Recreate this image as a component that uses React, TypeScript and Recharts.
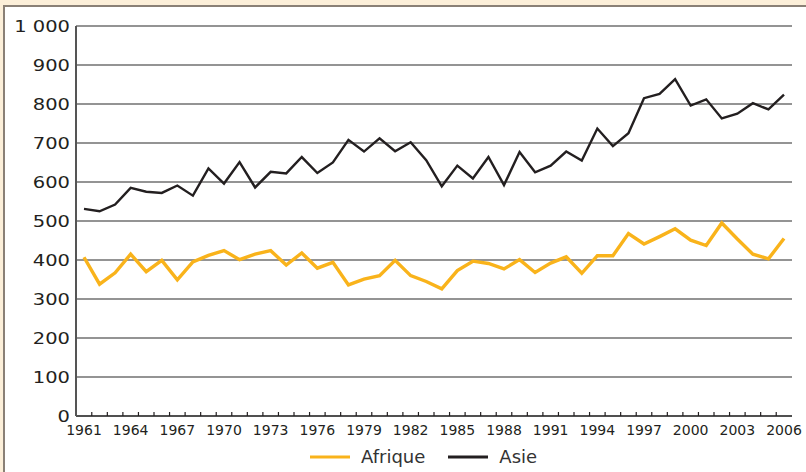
import { LineChart, Line, XAxis, YAxis, CartesianGrid } from "recharts";

const years = [
  1961, 1962, 1963, 1964, 1965, 1966, 1967, 1968, 1969, 1970, 1971, 1972,
  1973, 1974, 1975, 1976, 1977, 1978, 1979, 1980, 1981, 1982, 1983, 1984,
  1985, 1986, 1987, 1988, 1989, 1990, 1991, 1992, 1993, 1994, 1995, 1996,
  1997, 1998, 1999, 2000, 2001, 2002, 2003, 2004, 2005, 2006,
];

const afrique = [
  407, 338, 367, 415, 370, 399, 349, 395, 412, 424, 401, 415,
  424, 387, 418, 379, 394, 336, 351, 360, 399, 360, 345, 326,
  373, 397, 391, 377, 401, 368, 392, 408, 366, 411, 411, 468,
  441, 460, 480, 451, 437, 495, 454, 415, 403, 455,
];

const asie = [
  531, 525, 542, 585, 575, 572, 591, 565, 635, 596, 651, 586,
  626, 622, 664, 623, 650, 708, 678, 712, 679, 702, 656, 589,
  642, 609, 664, 592, 677, 625, 642, 678, 655, 737, 692, 725,
  815, 826, 864, 796, 812, 763, 775, 802, 786, 824,
];

const yTicks = [0, 100, 200, 300, 400, 500, 600, 700, 800, 900, 1000];

const series = [
  { key: "afrique", name: "Afrique", color: "#f9b31b", width: 3.4 },
  { key: "asie", name: "Asie", color: "#231f20", width: 2.4 },
];

const data = years.map((year, i) => ({
  year,
  afrique: afrique[i],
  asie: asie[i],
}));

const FONT = "'DejaVu Sans', sans-serif";
const PLOT_LEFT = 76;
const PLOT_RIGHT = 792;
const X_PAD = 8;
const HALF_STEP =
  (PLOT_RIGHT - PLOT_LEFT - 2 * X_PAD) / (years.length - 1) / 2;

const fmt = (v: number) =>
  v >= 1000 ? `${Math.floor(v / 1000)} ${String(v % 1000).padStart(3, "0")}` : String(v);

const XTick = (props: any) => {
  const { x, y, payload, index } = props;
  const year = Number(payload.value);
  return (
    <g>
      {index < years.length - 1 && (
        <line
          x1={x + HALF_STEP}
          x2={x + HALF_STEP}
          y1={y}
          y2={y - 4}
          stroke="#231f20"
          strokeWidth={1.2}
        />
      )}
      {(year - years[0]) % 3 === 0 && (
        <text
          x={x}
          y={y + 19}
          textAnchor="middle"
          fontFamily={FONT}
          fontSize={14}
          fill="#231f20"
        >
          {year}
        </text>
      )}
    </g>
  );
};

const YTick = (props: any) => {
  const { x, y, payload } = props;
  return (
    <g transform={`translate(${x - 6},${y})`}>
      <text
        transform="scale(1.3,1)"
        textAnchor="end"
        dy={5.5}
        fontFamily={FONT}
        fontSize={15}
        fill="#231f20"
      >
        {fmt(payload.value)}
      </text>
    </g>
  );
};

const ChartLegend = () => (
  <div
    style={{
      position: "absolute",
      top: 446,
      left: 310,
      display: "flex",
      alignItems: "center",
      fontFamily: FONT,
      fontSize: 18,
      color: "#333",
    }}
  >
    {series.map((s, i) => (
      <div
        key={s.key}
        style={{ display: "flex", alignItems: "center", marginRight: i === 0 ? 23 : 0 }}
      >
        <svg width={40} height={6} style={{ marginRight: 11 }}>
          <line x1={0} x2={40} y1={3} y2={3} stroke={s.color} strokeWidth={3} />
        </svg>
        <span>{s.name}</span>
      </div>
    ))}
  </div>
);

const App = () => {
  return (
    <div
      style={{
        position: "absolute",
        left: 0,
        top: 0,
        width: 806,
        height: 472,
        background: "#fcefd9",
        overflow: "hidden",
      }}
    >
      <div
        style={{
          position: "absolute",
          left: 3,
          top: 5,
          width: 803,
          height: 467,
          background: "#fff",
          borderTop: "2px solid #8a8076",
          borderLeft: "2px solid #8a8076",
          boxSizing: "border-box",
        }}
      />
      <div style={{ position: "absolute", left: 0, top: 0 }}>
        <LineChart
          width={806}
          height={472}
          data={data}
          margin={{ top: 26, right: 14, bottom: 26, left: 6 }}
        >
          <CartesianGrid vertical={false} stroke="#2b2b2b" strokeWidth={1.2} />
          <XAxis
            dataKey="year"
            interval={0}
            height={30}
            padding={{ left: X_PAD, right: X_PAD }}
            tickLine={false}
            tickSize={0}
            tickMargin={0}
            tick={<XTick />}
            axisLine={{ stroke: "#3a3a3a", strokeWidth: 1.5 }}
          />
          <YAxis
            domain={[0, 1000]}
            ticks={yTicks}
            width={70}
            tickLine={false}
            tickSize={0}
            tickMargin={0}
            tick={<YTick />}
            axisLine={{ stroke: "#555", strokeWidth: 2 }}
          />
          <YAxis
            yAxisId="right"
            orientation="right"
            domain={[0, 1000]}
            width={0}
            tick={false}
            tickLine={false}
            axisLine={{ stroke: "#808080", strokeWidth: 2 }}
          />
          {series.map((s) => (
            <Line
              key={s.key}
              dataKey={s.key}
              name={s.name}
              stroke={s.color}
              strokeWidth={s.width}
              dot={false}
              activeDot={false}
              isAnimationActive={false}
            />
          ))}
        </LineChart>
      </div>
      <ChartLegend />
    </div>
  );
};

export default App;
